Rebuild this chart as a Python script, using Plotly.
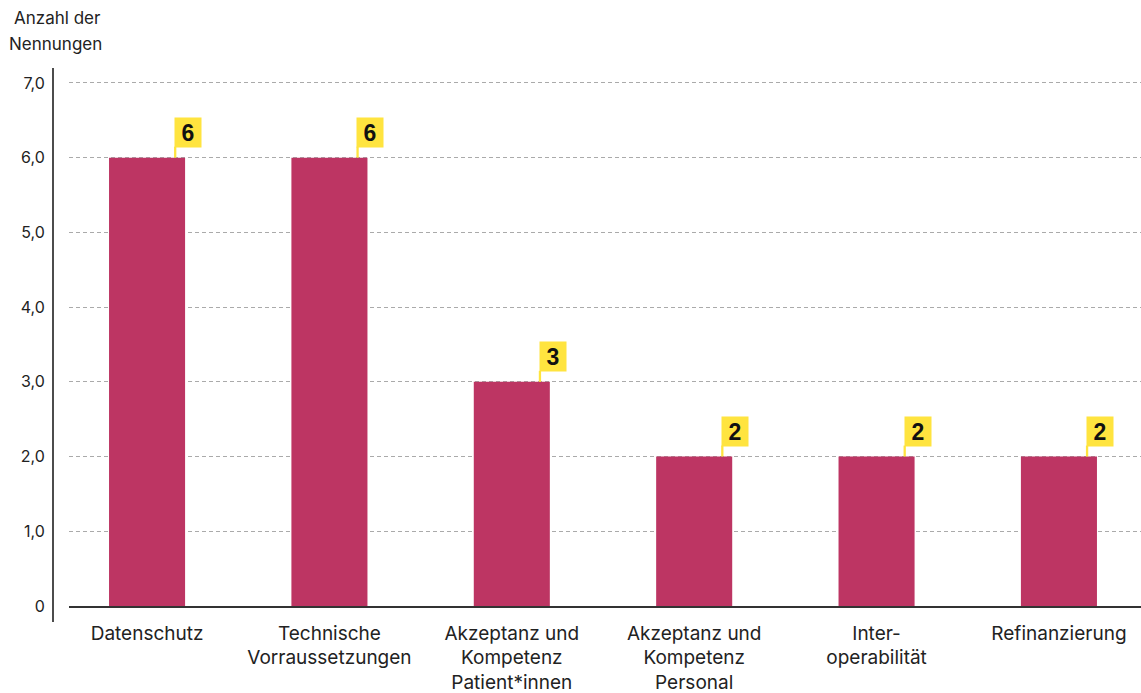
import plotly.graph_objects as go

categories = ["Datenschutz", "Technische<br>Vorraussetzungen", "Akzeptanz und<br>Kompetenz<br>Patient*innen",
              "Akzeptanz und<br>Kompetenz<br>Personal", "Inter-<br>operabilität", "Refinanzierung"]
values = [6, 6, 3, 2, 2, 2]
y_tickvals = [0, 1, 2, 3, 4, 5, 6, 7]
y_ticktext = ["0", "1,0", "2,0", "3,0", "4,0", "5,0", "6,0", "7,0"]

BAR = "#BD3563"
YEL = "#FFE43F"
FONT = "Inter"

xpos = list(range(len(categories)))

fig = go.Figure()
fig.add_trace(go.Bar(x=xpos, y=values, marker_color=BAR, marker_line_width=0, width=0.417,
                     hoverinfo="skip"))

annotations = []
shapes = []
off = 0.148
for x, v in zip(xpos, values):
    annotations.append(dict(x=x + off, y=v, xref="x", yref="y", xanchor="left", yanchor="bottom",
                            yshift=10, text=f"<b>{v}</b>", showarrow=False, bgcolor=YEL,
                            width=26, height=29, borderpad=0,
                            font=dict(family="Liberation Sans", size=23, color="#111")))
    shapes.append(dict(type="rect", xref="x", yref="y", xsizemode="pixel", ysizemode="pixel",
                       xanchor=x + off, yanchor=v, x0=0, x1=2.3, y0=0, y1=11,
                       fillcolor=YEL, line_width=0, layer="above"))

# y axis line offset to the left of the plot
shapes.append(dict(type="line", xref="paper", yref="paper", x0=-16 / 1072, x1=-16 / 1072,
                   y0=-16 / 538, y1=1, line=dict(color="#111", width=1.5)))

annotations.append(dict(text="Anzahl der", xref="paper", yref="paper", x=-57 / 1072, y=1 + 50 / 538,
                        xanchor="left", yanchor="middle", showarrow=False,
                        font=dict(family=FONT, size=17, color="#222")))
annotations.append(dict(text="Nennungen", xref="paper", yref="paper", x=-62 / 1072, y=1 + 24 / 538,
                        xanchor="left", yanchor="middle", showarrow=False,
                        font=dict(family=FONT, size=17, color="#222")))

fig.update_layout(
    width=1141, height=693,
    margin=dict(l=69, r=0, t=68, b=87),
    plot_bgcolor="white", paper_bgcolor="white",
    showlegend=False,
    font=dict(family=FONT, size=17, color="#222"),
    xaxis=dict(range=[-0.428, 5.45], tickvals=xpos, ticktext=categories, showgrid=False,
               showline=True, linecolor="#333", linewidth=1.5, ticks="outside", ticklen=0,
               ticklabelstandoff=9, zeroline=False,
               tickfont=dict(family=FONT, size=19, color="#222"), fixedrange=True),
    yaxis=dict(range=[0, 7.2], tickvals=y_tickvals, ticktext=y_ticktext, showgrid=True,
               gridcolor="#aaaaaa", gridwidth=1, griddash="4px,3px", zeroline=False,
               showline=False, ticks="outside", ticklen=0, ticklabelstandoff=20,
               tickfont=dict(family=FONT, size=16, color="#222"), fixedrange=True),
    annotations=annotations,
    shapes=shapes,
)

fig.write_html("out.html")
